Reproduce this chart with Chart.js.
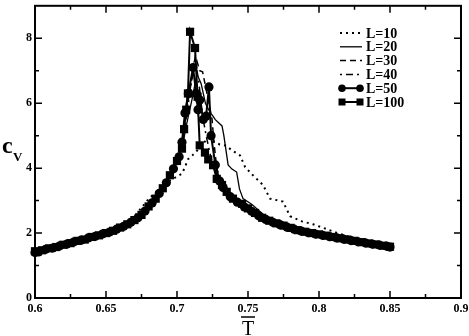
<!DOCTYPE html>
<html>
<head>
<meta charset="utf-8">
<script src="https://cdn.jsdelivr.net/npm/chart.js@4.4.1/dist/chart.umd.min.js"></script>
<style>
  html, body { margin: 0; padding: 0; background: #fff; }
  #wrap { width: 469px; height: 336px; }
</style>
</head>
<body>
<div id="wrap"><canvas id="cvChart"></canvas></div>
<script>
// series names
const seriesNames = ['L=10', 'L=20', 'L=30', 'L=40', 'L=50', 'L=100'];

// tick labels
const xTicks = [0.6, 0.65, 0.7, 0.75, 0.8, 0.85, 0.9];
const xMinorTicks = [0.625, 0.675, 0.725, 0.775, 0.825, 0.875];
const yTicks = [0, 2, 4, 6, 8];
const yMinorTicks = [1, 3, 5, 7];

// L=10
const t10 = [0.600,0.605,0.610,0.615,0.620,0.625,0.630,0.635,0.640,0.645,0.650,0.655,0.660,0.665,0.670,0.675,0.680,0.685,0.690,0.695,0.700,
  0.7035,0.7056,0.7077,0.711,0.716,0.7218,0.726,0.730,0.734,0.7387,0.7444,0.748,0.7535,0.7606,0.7655,0.7746,0.7796,0.788,0.7958,0.8056,0.8148,0.8268,0.835,0.842,0.850];
const cv10 = [1.45,1.49,1.54,1.59,1.65,1.71,1.77,1.83,1.89,1.95,2.02,2.10,2.19,2.33,2.52,2.78,3.05,3.25,3.45,3.62,3.74,
  3.83,4.03,4.27,4.40,4.62,4.94,4.82,4.73,4.70,4.55,4.39,4.03,3.78,3.48,3.06,2.97,2.52,2.36,2.27,2.12,1.97,1.82,1.74,1.68,1.62];

// L=20
const t20 = [0.600,0.605,0.610,0.615,0.620,0.625,0.630,0.635,0.640,0.645,0.650,0.655,0.660,0.665,0.670,0.675,0.680,0.685,0.690,0.695,0.700,
  0.7035,0.707,0.711,0.714,0.717,0.720,0.7235,0.7254,0.7268,0.7317,0.733,0.736,0.7387,0.742,0.744,0.7465,0.7528,0.760,0.765,0.770,
  0.775,0.780,0.785,0.790,0.795,0.800,0.805,0.810,0.815,0.820,0.825,0.830,0.835,0.840,0.845,0.850];
const cv20 = [1.43,1.48,1.52,1.58,1.63,1.70,1.75,1.81,1.87,1.94,1.99,2.08,2.16,2.29,2.41,2.58,2.84,3.10,3.42,3.85,4.25,
  4.60,5.40,6.20,6.90,6.60,6.00,5.70,5.60,5.50,5.30,5.00,4.10,3.97,3.88,3.36,3.06,2.88,2.60,2.45,2.33,
  2.23,2.16,2.10,2.04,2.00,1.96,1.92,1.88,1.84,1.80,1.76,1.72,1.69,1.66,1.63,1.60];

// L=30
const t30 = [0.600,0.605,0.610,0.615,0.620,0.625,0.630,0.635,0.640,0.645,0.650,0.655,0.660,0.665,0.670,0.675,0.680,0.685,0.690,0.695,0.700,
  0.704,0.708,0.711,0.714,0.716,0.718,0.7225,0.7247,0.726,0.728,0.731,0.735,0.740,0.745,0.750,
  0.755,0.760,0.765,0.770,
  0.775,0.780,0.785,0.790,0.795,0.800,0.805,0.810,0.815,0.820,0.825,0.830,0.835,0.840,0.845,0.850];
const cv30 = [1.44,1.48,1.53,1.58,1.64,1.70,1.76,1.82,1.88,1.94,2.00,2.08,2.17,2.28,2.41,2.57,2.82,3.08,3.40,3.80,4.22,
  4.80,6.10,6.90,7.30,7.00,6.97,6.00,5.50,4.80,4.00,3.58,3.30,3.12,2.95,2.80,
  2.65,2.50,2.40,2.31,
  2.23,2.16,2.10,2.04,1.99,1.95,1.91,1.87,1.83,1.79,1.75,1.72,1.69,1.66,1.63,1.60];

// L=40
const t40 = [0.600,0.605,0.610,0.615,0.620,0.625,0.630,0.635,0.640,0.645,0.650,0.655,0.660,0.665,0.670,0.675,0.680,0.685,0.690,0.695,0.700,
  0.704,0.708,0.7127,0.7155,0.718,0.721,0.724,0.728,0.733,0.738,0.745,0.750,
  0.755,0.760,0.765,0.770,
  0.775,0.780,0.785,0.790,0.795,0.800,0.805,0.810,0.815,0.820,0.825,0.830,0.835,0.840,0.845,0.850];
const cv40 = [1.44,1.48,1.53,1.58,1.64,1.70,1.76,1.82,1.88,1.94,2.01,2.09,2.18,2.29,2.42,2.58,2.83,3.09,3.41,3.82,4.24,
  4.90,6.00,7.40,6.60,5.60,4.90,4.30,3.80,3.40,3.15,2.92,2.78,
  2.64,2.49,2.39,2.30,
  2.22,2.15,2.09,2.03,1.98,1.94,1.90,1.86,1.82,1.78,1.75,1.71,1.68,1.65,1.62,1.59];

// L=50
const t50 = [0.600,
  0.6025,0.6075,0.6125,0.6175,0.6225,0.6275,0.6325,0.6375,0.6425,0.6475,0.6525,0.6575,0.6625,0.6675,0.6725,0.6775,0.6825,0.6875,0.6925,0.6975,
  0.7015,0.7035,0.7056,0.708,0.7113,0.7135,0.7148,0.716,0.7185,0.7205,0.7225,0.724,0.727,0.730,
  0.7325,0.7375,0.7425,0.7475,0.7525,0.7575,0.7625,0.7675,0.7725,0.7775,0.7825,0.7875,0.7925,0.7975,0.8025,0.8075,0.8125,0.8175,0.8225,0.8275,0.8325,0.8375,0.8425,0.8475,
  0.850];
const cv50 = [1.40,
  1.42,1.50,1.54,1.61,1.66,1.73,1.78,1.85,1.90,1.97,2.03,2.12,2.21,2.33,2.47,2.68,2.93,3.22,3.55,3.98,
  4.35,4.80,5.70,6.30,7.10,6.30,5.80,6.10,5.50,5.60,6.50,5.00,4.10,3.60,
  3.40,3.12,2.95,2.80,2.67,2.53,2.42,2.33,2.26,2.18,2.12,2.06,2.01,1.97,1.93,1.89,1.85,1.81,1.77,1.73,1.70,1.66,1.63,1.60,
  1.57];

// L=100
const t100 = [0.600,0.605,0.610,0.615,0.620,0.625,0.630,0.635,0.640,0.645,0.650,0.655,0.660,0.665,0.670,0.675,0.680,0.685,0.690,0.695,0.700,
  0.7035,0.705,0.7065,0.7077,0.7092,0.7127,0.7145,0.716,0.7197,0.722,0.7254,0.728,0.7317,0.735,0.7394,0.7458,
  0.750,0.755,0.760,0.765,0.770,
  0.775,0.780,0.785,0.790,0.795,0.800,0.805,0.810,0.815,0.820,0.825,0.830,0.835,0.840,0.845,0.850];
const cv100 = [1.44,1.47,1.53,1.57,1.64,1.69,1.76,1.80,1.88,1.93,2.00,2.07,2.17,2.27,2.40,2.56,2.82,3.06,3.38,3.78,4.22,
  4.60,5.20,5.80,6.30,8.20,7.70,6.20,4.70,4.48,4.27,4.09,3.67,3.48,3.27,3.06,2.90,
  2.76,2.62,2.47,2.38,2.30,
  2.23,2.16,2.09,2.04,2.00,1.96,1.92,1.88,1.84,1.80,1.76,1.72,1.68,1.65,1.61,1.58];

const seriesT = [t10, t20, t30, t40, t50, t100];
const seriesCv = [cv10, cv20, cv30, cv40, cv50, cv100];

const SERIF = '"Liberation Serif", "DejaVu Serif", serif';

// line styles per series
const styles = [
  { dash: [2, 4], width: 2, point: false },
  { dash: [], width: 1.3, point: false },
  { dash: [6, 4], width: 1.5, point: false },
  { dash: [2, 4, 7, 4], width: 1.5, point: false },
  { dash: [], width: 2, point: 'circle', r: 4.6 },
  { dash: [], width: 2, point: 'rect', r: 5.8 }
];

const datasets = seriesNames.map((name, i) => ({
  label: name,
  data: seriesT[i].map((t, k) => ({ x: t, y: seriesCv[i][k] })),
  showLine: true,
  borderColor: '#000',
  backgroundColor: '#000',
  borderWidth: styles[i].width,
  borderDash: styles[i].dash,
  pointStyle: styles[i].point || 'circle',
  pointRadius: styles[i].point ? styles[i].r : 0,
  pointBorderWidth: 0,
  pointHoverRadius: 0,
  tension: 0,
  clip: false
}));

// frame, inward ticks, axis titles, legend
const decorPlugin = {
  id: 'decor',
  afterDraw(chart) {
    const { ctx, chartArea: a, scales: { x, y } } = chart;
    ctx.save();
    ctx.strokeStyle = '#000';
    ctx.lineWidth = 2;
    ctx.setLineDash([]);
    ctx.strokeRect(a.left, a.top, a.right - a.left, a.bottom - a.top);

    ctx.lineWidth = 1.5;
    ctx.beginPath();
    const xt = (v, len) => {
      const p = x.getPixelForValue(v);
      ctx.moveTo(p, a.bottom); ctx.lineTo(p, a.bottom - len);
      ctx.moveTo(p, a.top); ctx.lineTo(p, a.top + len);
    };
    const yt = (v, len) => {
      const p = y.getPixelForValue(v);
      ctx.moveTo(a.left, p); ctx.lineTo(a.left + len, p);
      ctx.moveTo(a.right, p); ctx.lineTo(a.right - len, p);
    };
    xTicks.forEach(v => xt(v, 7));
    xMinorTicks.forEach(v => xt(v, 4));
    yTicks.forEach(v => yt(v, 7));
    yMinorTicks.forEach(v => yt(v, 4));
    ctx.stroke();

    // y title c_V
    ctx.fillStyle = '#000';
    ctx.textAlign = 'left';
    ctx.textBaseline = 'alphabetic';
    ctx.font = 'bold 24px ' + SERIF;
    ctx.fillText('c', 2, 153);
    ctx.font = 'bold 13px ' + SERIF;
    ctx.fillText('V', 13, 161);

    // x title T with overline
    const cx = (a.left + a.right) / 2;
    ctx.font = '20px ' + SERIF;
    ctx.textAlign = 'center';
    ctx.fillText('T', cx, 335);
    ctx.lineWidth = 1.5;
    ctx.beginPath();
    ctx.moveTo(cx - 7, 317); ctx.lineTo(cx + 7, 317);
    ctx.stroke();

    // legend
    ctx.textAlign = 'left';
    ctx.textBaseline = 'middle';
    ctx.font = 'bold 14px ' + SERIF;
    seriesNames.forEach((name, i) => {
      const ly = 33 + i * 13.8;
      const s = styles[i];
      ctx.lineWidth = s.width;
      ctx.setLineDash(s.dash);
      ctx.beginPath();
      ctx.moveTo(340, ly); ctx.lineTo(362, ly);
      ctx.stroke();
      ctx.setLineDash([]);
      if (s.point === 'circle') {
        [342, 360].forEach(px => { ctx.beginPath(); ctx.arc(px, ly, 3.8, 0, Math.PI * 2); ctx.fill(); });
      } else if (s.point === 'rect') {
        [342, 360].forEach(px => ctx.fillRect(px - 3.5, ly - 3.5, 7, 7));
      }
      ctx.fillText(name, 366, ly + 1);
    });
    ctx.restore();
  }
};

new Chart(document.getElementById('cvChart'), {
  type: 'scatter',
  data: { datasets },
  options: {
    responsive: true,
    maintainAspectRatio: false,
    animation: false,
    layout: { padding: { top: 2, right: 8, left: 0, bottom: 0 } },
    plugins: { legend: { display: false }, tooltip: { enabled: false } },
    scales: {
      x: {
        type: 'linear',
        min: 0.6,
        max: 0.9,
        afterBuildTicks: s => { s.ticks = xTicks.map(v => ({ value: v })); },
        afterFit: s => { s.height = 38; s.paddingLeft = 0; s.paddingRight = 0; },
        grid: { display: false, drawTicks: false },
        border: { display: false },
        ticks: {
          padding: 4,
          maxRotation: 0,
          autoSkip: false,
          color: '#000',
          font: { family: SERIF, size: 12, weight: 'bold' },
          callback: v => String(v)
        }
      },
      y: {
        type: 'linear',
        min: 0,
        max: 9,
        afterBuildTicks: s => { s.ticks = yTicks.map(v => ({ value: v })); },
        afterFit: s => { s.width = 35; s.paddingTop = 0; s.paddingBottom = 0; },
        grid: { display: false, drawTicks: false },
        border: { display: false },
        ticks: {
          padding: 3,
          autoSkip: false,
          color: '#000',
          font: { family: SERIF, size: 12, weight: 'bold' },
          callback: v => String(v)
        }
      }
    }
  },
  plugins: [decorPlugin]
});
</script>
</body>
</html>
